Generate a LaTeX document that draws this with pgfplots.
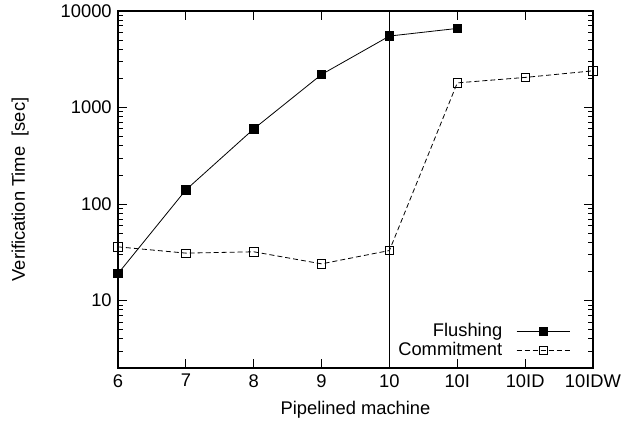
\documentclass[border=0pt]{standalone}
\usepackage{fontspec}
\setmainfont{Liberation Sans}
\usepackage{pgfplots}
\pgfplotsset{compat=1.18}
\begin{document}
\begin{tikzpicture}
\fontsize{18.4}{22}\selectfont
\begin{axis}[
  name=ax,
  scale only axis,
  width=475bp, height=357bp,
  ymode=log,
  log ticks with fixed point,
  ymin=2, ymax=10000,
  xmin=0, xmax=7,
  xtick={0,1,2,3,4,5,6,7},
  xticklabels={6,7,8,9,10,10I,10ID,10IDW},
  tick align=inside,
  major tick length=9bp,
  minor tick length=5bp,
  tick style={black, line width=0.9bp},
  axis line style={line width=1.2bp},
  /pgf/number format/assume math mode=true,
  ticklabel style={font=\fontsize{18.4}{22}\selectfont},
  yticklabel style={/pgf/number format/1000 sep={}},
  every axis y label/.style={at={(axis description cs:-0.206,0.5)}, rotate=90, anchor=center, font=\fontsize{18.4}{22}\selectfont},
  every axis x label/.style={at={(axis description cs:0.5,-0.118)}, anchor=center, font=\fontsize{18.4}{22}\selectfont},
  xlabel={Pipelined machine},
  ylabel={Verification Time~~[sec]},
  legend style={draw=none, fill=none, at={(axis description cs:0.952,0.02)}, anchor=south east, inner sep=0pt, font=\fontsize{18.4}{22}\selectfont, row sep=-1bp, column sep=12bp},
  legend cell align=right,
  legend plot pos=right,
  legend image code/.code={\draw[mark repeat=2,mark phase=2,#1] plot coordinates {(0bp,0bp) (26.5bp,0bp) (53bp,0bp)};},
  clip=false,
]
\addplot[black, line width=0.8bp, mark=square*, mark size=4.2bp, mark options={solid}] coordinates {
(0,19) (1,140) (2,600) (3,2200) (4,5500) (5,6600)
};
\addlegendentry{Flushing}
\addplot[black, line width=0.8bp, dash pattern=on 5bp off 3bp, mark=square, mark size=4.2bp, mark options={solid, fill=white}] coordinates {
(0,36) (1,31) (2,32) (3,24) (4,33) (5,1800) (6,2050) (7,2400)
};
\addlegendentry{Commitment}
\draw[black, line width=0.8bp] (axis cs:4,2) -- (axis cs:4,10000);
\end{axis}
\pgfresetboundingbox
\path[use as bounding box] ([shift={(-118bp,-59bp)}]ax.south west) rectangle ([shift={(28bp,11bp)}]ax.north east);
\end{tikzpicture}
\end{document}
